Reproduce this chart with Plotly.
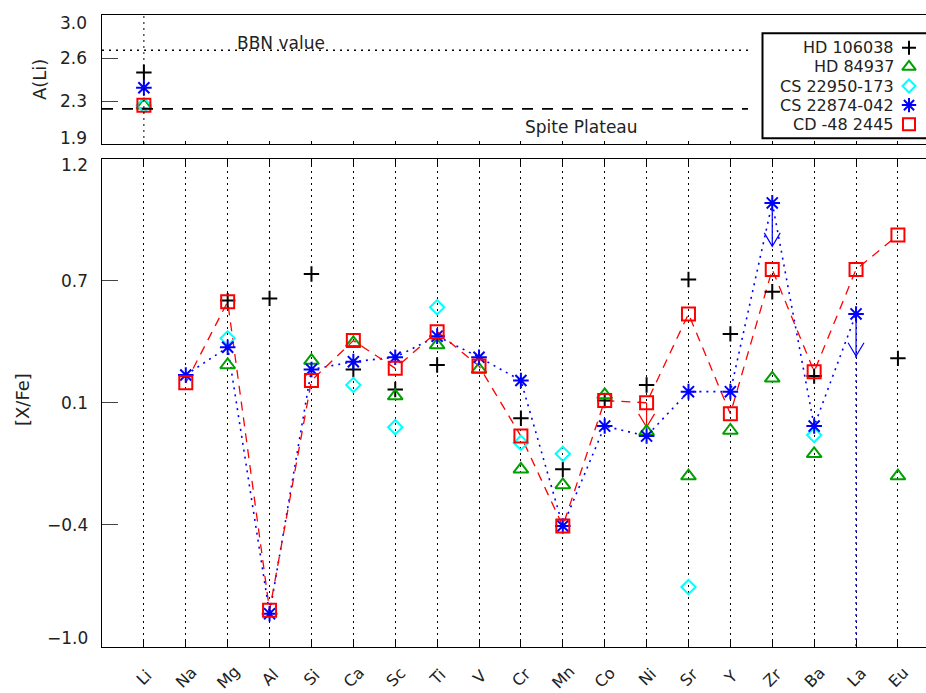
import plotly.graph_objects as go

# ---------------- data ----------------
elements = ["Li", "Na", "Mg", "Al", "Si", "Ca", "Sc", "Ti", "V", "Cr",
            "Mn", "Co", "Ni", "Sr", "Y", "Zr", "Ba", "La", "Eu"]
xfe_elements = elements[1:]   # Na ... Eu

star_names = ["HD 106038", "HD 84937", "CS 22950-173", "CS 22874-042", "CD -48 2445"]

# A(Li) (top panel)
ali_values = [2.51, 2.23, 2.23, 2.38, 2.23]
bbn_value = 2.70
spite_plateau = 2.20

# [X/Fe] for Na..Eu (None = not measured)
hd106038 = [None, 0.56, 0.57, 0.68, 0.25, 0.16, 0.27, None, 0.03, -0.20,
            0.11, 0.18, 0.655, 0.41, 0.60, 0.22, None, 0.30]
hd84937 = [None, 0.27, None, 0.29, 0.37, 0.13, 0.36, 0.25, -0.20, -0.27,
           0.135, -0.03, -0.23, -0.025, 0.21, -0.13, None, -0.23]
cs22950_173 = [None, 0.39, None, None, 0.18, -0.01, 0.53, None, -0.08, -0.13,
               None, None, -0.73, None, None, -0.045, None, None]
cs22874_042 = [0.225, 0.35, -0.85, 0.25, 0.285, 0.305, 0.40, 0.305, 0.20, -0.455,
               -0.005, -0.05, 0.15, 0.15, 1.00, -0.005, 0.50, None]
cd48_2445 = [0.19, 0.555, -0.835, 0.20, 0.38, 0.255, 0.42, 0.265, -0.05, -0.455,
             0.11, 0.10, 0.50, 0.05, 0.70, 0.24, 0.70, 0.855]

# upper limits: element -> arrow tip value
cs22874_limits = {"Zr": 0.805, "La": 0.31}
cd48_limits = {"Ni": -0.01}

# y-axis ticks (IDL-style rounded labels)
main_tickvals = [-1.0, -0.45, 0.1, 0.65, 1.2]
main_ticktext = ["\u22121.0", "\u22120.4", "0.1", "0.7", "1.2"]
top_tickvals = [1.9, 2.2667, 2.6333, 3.0]
top_ticktext = ["1.9", "2.3", "2.6", "3.0"]
main_range = [-1.0, 1.2]
top_range = [1.9, 3.0]

# ---------------- style ----------------
FONT = "DejaVu Sans"
TXT = "#222222"
FS = 17
styles = [
    dict(symbol="cross-thin-open", color="black", size=11),
    dict(symbol="triangle-up-open", color="#00A000", size=13),
    dict(symbol="diamond-open", color="#00FFFF", size=11),
    dict(symbol="asterisk-open", color="#0000FF", size=13),
    dict(symbol="square-open", color="#FF0000", size=13),
]
series = [hd106038, hd84937, cs22950_173, cs22874_042, cd48_2445]

W, H = 926, 693
L, R, T, B = 102, 0, 15, 46
PH = H - T - B
PW = W - L - R
top_dom = [(H - B - 144) / PH, 1.0]
main_dom = [0.0, (H - B - 158.5) / PH]
x_lo, x_hi = -1.0, 18.67

idx = {e: i for i, e in enumerate(elements)}


def xy(vals):
    xs, ys = [], []
    for e, v in zip(xfe_elements, vals):
        if v is not None:
            xs.append(idx[e])
            ys.append(v)
    return xs, ys


def px_to_paper_x(px):
    return (px - L) / PW


def px_to_paper_y(py):
    return (H - B - py) / PH


fig = go.Figure()

# connecting lines
xs, ys = xy(cs22874_042)
fig.add_trace(go.Scatter(x=xs, y=ys, mode="lines", xaxis="x", yaxis="y",
                         line=dict(color="#0000FF", width=1.6, dash="2px,5px"),
                         hoverinfo="skip", showlegend=False))
xs, ys = xy(cd48_2445)
fig.add_trace(go.Scatter(x=xs, y=ys, mode="lines", xaxis="x", yaxis="y",
                         line=dict(color="#FF0000", width=1.3, dash="9px,7px"),
                         hoverinfo="skip", showlegend=False))

# dotted extension below La limit (blue)
fig.add_trace(go.Scatter(x=[idx["La"], idx["La"]], y=[cs22874_limits["La"], main_range[0]],
                         mode="lines", xaxis="x", yaxis="y",
                         line=dict(color="#0000FF", width=1.4, dash="2px,4px"),
                         hoverinfo="skip", showlegend=False))


# upper limit arrows
def add_limits(vals, limits, color):
    hx = 0.19   # half width of head (category units)
    hy = 0.06   # head height (data units)
    for e, tip in limits.items():
        start = vals[xfe_elements.index(e)]
        x0 = idx[e]
        fig.add_trace(go.Scatter(
            x=[x0, x0, None, x0 - hx, x0, x0 + hx],
            y=[start, tip, None, tip + hy, tip, tip + hy],
            mode="lines", xaxis="x", yaxis="y",
            line=dict(color=color, width=1.2),
            hoverinfo="skip", showlegend=False))


add_limits(cs22874_042, cs22874_limits, "#0000FF")
add_limits(cd48_2445, cd48_limits, "#FF0000")

# markers main panel + top panel
for name, vals, st, ali in zip(star_names, series, styles, ali_values):
    xs, ys = xy(vals)
    mk = dict(symbol=st["symbol"], size=st["size"], color=st["color"],
              line=dict(color=st["color"], width=2))
    fig.add_trace(go.Scatter(x=xs, y=ys, mode="markers", xaxis="x", yaxis="y",
                             marker=mk, name=name, showlegend=False))
    fig.add_trace(go.Scatter(x=[idx["Li"]], y=[ali], mode="markers", xaxis="x2", yaxis="y2",
                             marker=mk, name=name, showlegend=False))

# custom legend (symbols right of right-aligned text)
leg_rows_px = [47.7, 66.8, 86.0, 105.1, 124.2]
leg_x_px = 909
for name, st, ry in zip(star_names, styles, leg_rows_px):
    fig.add_trace(go.Scatter(x=[leg_x_px], y=[ry], mode="markers", xaxis="x3", yaxis="y3",
                             marker=dict(symbol=st["symbol"], size=st["size"] - 1, color=st["color"],
                                         line=dict(color=st["color"], width=2)),
                             hoverinfo="skip", showlegend=False))

annotations = []
for name, ry in zip(star_names, leg_rows_px):
    annotations.append(dict(x=896, y=ry, xref="x3", yref="y3", text=name, showarrow=False,
                            xanchor="right", yanchor="middle",
                            font=dict(family=FONT, size=FS - 1, color=TXT)))

# y tick labels (IDL places end labels inside the range)
for v, t in zip(main_tickvals, main_ticktext):
    shift = -6 if v == main_range[1] else (9 if v == main_range[0] else 0)
    annotations.append(dict(x=px_to_paper_x(90), y=v, xref="paper", yref="y", text=t,
                            showarrow=False, xanchor="right", yanchor="middle", yshift=shift,
                            font=dict(family=FONT, size=FS, color=TXT)))
for v, t in zip(top_tickvals, top_ticktext):
    shift = -8 if v == top_range[1] else (6 if v == top_range[0] else 0)
    annotations.append(dict(x=px_to_paper_x(89), y=v, xref="paper", yref="y2", text=t,
                            showarrow=False, xanchor="right", yanchor="middle", yshift=shift,
                            font=dict(family=FONT, size=FS, color=TXT)))

# x tick labels rotated
for e in elements:
    annotations.append(dict(x=idx[e], y=px_to_paper_y(677), xref="x", yref="paper", text=e,
                            showarrow=False, textangle=-45, xanchor="center", yanchor="middle",
                            font=dict(family=FONT, size=FS - 1, color=TXT)))

# axis titles
annotations.append(dict(x=px_to_paper_x(39), y=px_to_paper_y(80), xref="paper", yref="paper",
                        text="A(Li)", textangle=-90, showarrow=False,
                        xanchor="center", yanchor="middle",
                        font=dict(family=FONT, size=FS + 1, color=TXT)))
annotations.append(dict(x=px_to_paper_x(22), y=px_to_paper_y(400), xref="paper", yref="paper",
                        text="[X/Fe]", textangle=-90, showarrow=False,
                        xanchor="center", yanchor="middle",
                        font=dict(family=FONT, size=FS + 1, color=TXT)))

# reference line labels
annotations.append(dict(x=px_to_paper_x(281), y=bbn_value, xref="paper", yref="y2",
                        text="BBN value", showarrow=False, xanchor="center",
                        yanchor="bottom", yshift=-5,
                        font=dict(family=FONT, size=FS, color=TXT)))
annotations.append(dict(x=px_to_paper_x(581), y=spite_plateau, xref="paper", yref="y2",
                        text="Spite Plateau", showarrow=False, xanchor="center",
                        yanchor="middle", yshift=-18,
                        font=dict(family=FONT, size=FS, color=TXT)))

shapes = [
    # BBN and Spite plateau lines
    dict(type="line", xref="x2 domain", yref="y2", x0=0, x1=(748 - L) / PW,
         y0=bbn_value, y1=bbn_value, line=dict(color="black", width=1.6, dash="2px,5px")),
    dict(type="line", xref="x2 domain", yref="y2", x0=0, x1=(748 - L) / PW,
         y0=spite_plateau, y1=spite_plateau, line=dict(color="black", width=1.8, dash="11px,9px")),
    # Li vertical dotted line in top panel
    dict(type="line", xref="x2", yref="y2 domain", x0=idx["Li"], x1=idx["Li"], y0=0, y1=1,
         line=dict(color="black", width=1, dash="2px,4px")),
    # legend box
    dict(type="rect", xref="paper", yref="paper",
         x0=px_to_paper_x(762.5), x1=px_to_paper_x(945),
         y0=px_to_paper_y(138.3), y1=px_to_paper_y(33.3),
         line=dict(color="black", width=2)),
]

common_x = dict(range=[x_lo, x_hi], tickmode="array", tickvals=list(range(len(elements))),
                showticklabels=False, zeroline=False, showline=True, linecolor="black",
                linewidth=1, ticks="inside", tickcolor="black")
fig.update_layout(
    width=W, height=H,
    margin=dict(l=L, r=R, t=T, b=B, pad=0),
    paper_bgcolor="white", plot_bgcolor="rgba(0,0,0,0)",
    showlegend=False,
    xaxis=dict(**common_x, domain=[0, 1], anchor="y", ticklen=6, mirror="ticks",
               showgrid=True, gridcolor="black", gridwidth=1, griddash="2px,4px"),
    yaxis=dict(domain=main_dom, range=main_range, anchor="x", tickmode="array",
               tickvals=main_tickvals, showticklabels=False, ticks="inside", ticklen=16,
               tickcolor="#444444", showline=True, linecolor="black", linewidth=1,
               showgrid=False, zeroline=False),
    xaxis2=dict(**common_x, domain=[0, 1], anchor="y2", ticklen=3, mirror=True,
                showgrid=False),
    yaxis2=dict(domain=top_dom, range=top_range, anchor="x2", tickmode="array",
                tickvals=top_tickvals, showticklabels=False, ticks="inside", ticklen=16,
                tickcolor="#444444", showline=True, linecolor="black", linewidth=1,
                showgrid=False, zeroline=False),
    xaxis3=dict(domain=[0, 1], range=[L, W - R], anchor="y3", visible=False, fixedrange=True),
    yaxis3=dict(domain=[0, 1], range=[H - B, T], anchor="x3", visible=False, fixedrange=True),
    annotations=annotations,
    shapes=shapes,
)

fig.write_html("out.html",
               config={"displayModeBar": False},
               post_script="document.body.style.margin='0';document.body.style.overflow='hidden';")
